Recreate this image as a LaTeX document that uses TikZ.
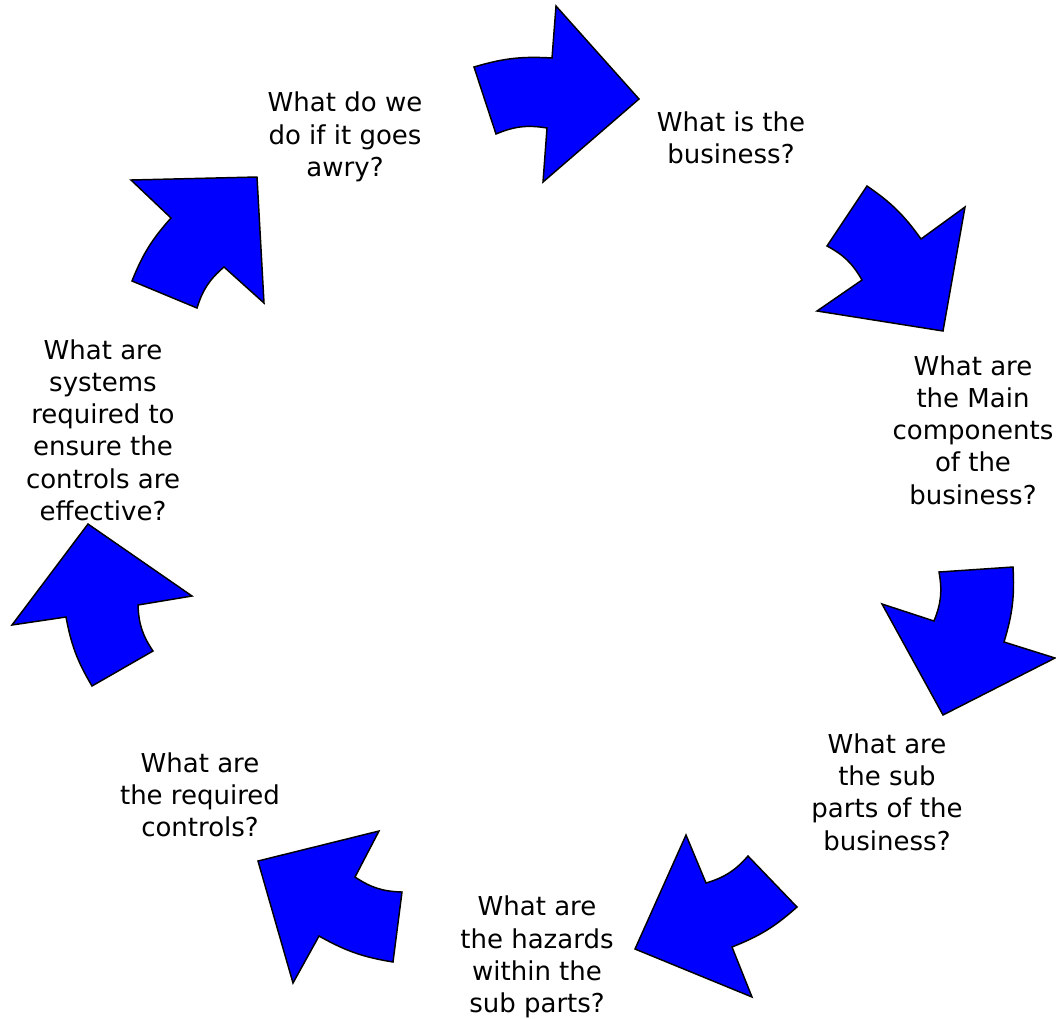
\documentclass[tikz,border=0pt]{standalone}
\usepackage{fontspec}
\setmainfont{DejaVu Sans}
\usepackage{tikz}
\usetikzlibrary{positioning}
\usepackage{xcolor}
\definecolor{cycleblue}{RGB}{0,0,255}

\begin{document}
\begin{tikzpicture}[%
    x=0.75pt,
    y=-0.75pt,
    line join=miter,
    question/.style={%
      align=center,
      inner sep=0pt,
      font=\fontsize{19.5}{24.2}\selectfont
    },
    bigarrow/.style={%
      draw=black,
      line width=1.1pt,
      fill=cycleblue
    },
    outarc/.style={bend left=10},
    inarc/.style={bend right=16}
  ]
    \useasboundingbox (0,0) rectangle (1056,1018);

    \node[question] (1) at (731,138)  {What is the\\business?};
    \node[question] (2) at (973,430)  {What are\\the Main\\components\\of the\\business?};
    \node[question] (3) at (887,792)  {What are\\the sub\\parts of the\\business?};
    \node[question] (4) at (537,957)  {What are\\the hazards\\within the\\sub parts?};
    \node[question] (5) at (200,795)  {What are\\the required\\controls?};
    \node[question] (6) at (103,430)  {What are\\systems\\required to\\ensure the\\controls are\\effective?};
    \node[question] (7) at (345,137)  {What do we\\do if it goes\\awry?};

    % arrows round the cycle
    \path[bigarrow] (474,67) to[outarc] (552,58) -- (556,6) -- (639,99)
          -- (543,182) -- (547,128) to[inarc] (496,134) -- cycle;
    \path[bigarrow] (867,186) to[outarc] (921,239) -- (965,207) -- (943,331)
          -- (817,311) -- (862,280) to[inarc] (827,246) -- cycle;
    \path[bigarrow] (1013,567) to[outarc] (1004,642) -- (1055,658) -- (943,715)
          -- (882,604) -- (934,621) to[inarc] (939,572) -- cycle;
    \path[bigarrow] (797,907) to[outarc] (732,947) -- (752,997) -- (635,949)
          -- (686,835) -- (706,883) to[inarc] (748,856) -- cycle;
    \path[bigarrow] (393,962) to[outarc] (319,936) -- (293,983) -- (258,861)
          -- (379,831) -- (355,877) to[inarc] (402,892) -- cycle;
    \path[bigarrow] (92,686) to[outarc] (66,617) -- (12,625) -- (88,524)
          -- (192,596) -- (138,605) to[inarc] (153,651) -- cycle;
    \path[bigarrow] (132,281) to[outarc] (171,218) -- (131,180) -- (257,177)
          -- (264,303) -- (224,267) to[inarc] (197,308) -- cycle;
  \end{tikzpicture}
\end{document}
